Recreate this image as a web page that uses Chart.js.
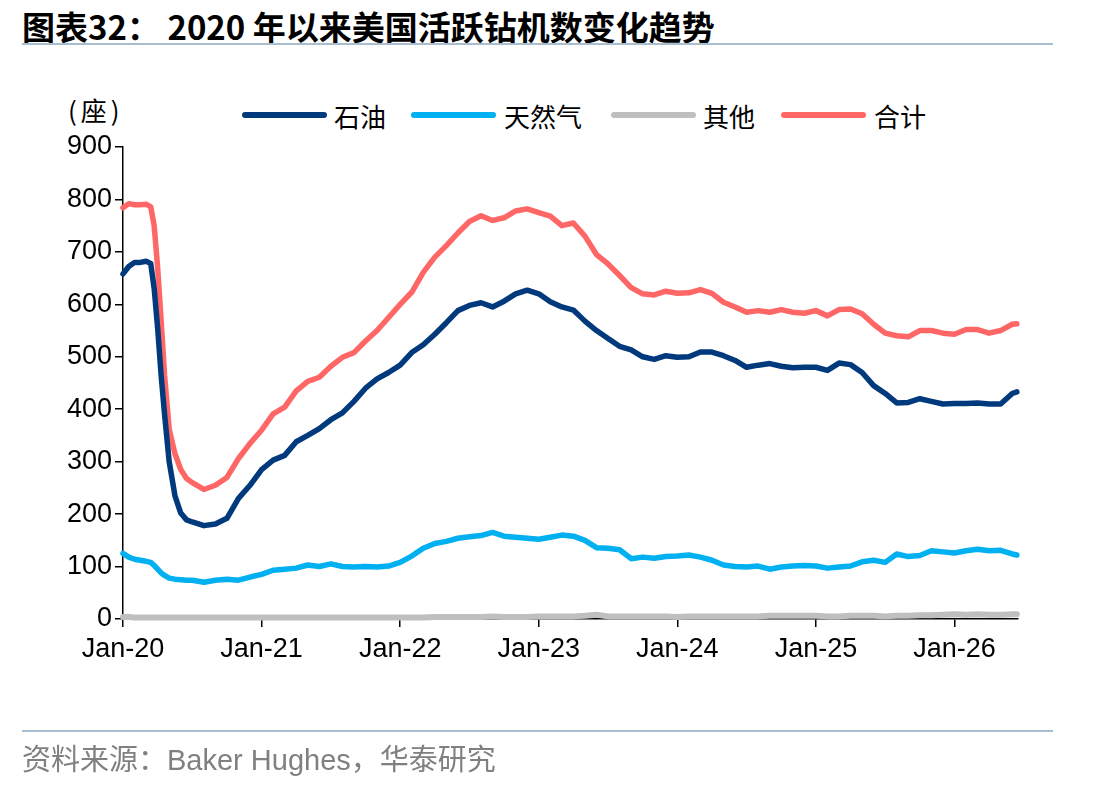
<!DOCTYPE html>
<html>
<head>
<meta charset="utf-8">
<script src="https://cdn.jsdelivr.net/npm/chart.js@4/dist/chart.umd.min.js"></script>
<style>
  body{margin:0;background:#fff;width:1112px;height:786px;position:relative;overflow:hidden}
  .title{position:absolute;left:22px;top:2px;font:bold 33px "Noto Sans CJK SC","Liberation Sans",sans-serif;color:#000;white-space:nowrap}
  .rule{position:absolute;left:22px;width:1031px;height:2px;background:#a9bdd1}
  .foot{position:absolute;left:22px;top:736px;font:29px "Liberation Sans","Noto Sans CJK SC",sans-serif;color:#808080;white-space:nowrap}
  .unit{position:absolute;left:68px;top:91px;font:26px "Noto Sans CJK SC",sans-serif;color:#000;letter-spacing:4px}
  .lg-line{position:absolute;top:112px;width:85px;height:6px;border-radius:3px}
  .lg-text{position:absolute;top:97px;font:26px "Noto Sans CJK SC",sans-serif;color:#000;white-space:nowrap}
  #chart{position:absolute;left:0;top:0}
</style>
</head>
<body>
<div class="title">图表32： 2020 年以来美国活跃钻机数变化趋势</div>
<div class="rule" style="top:43px"></div>
<div class="unit">(座)</div>
<div id="legend"></div>
<canvas id="chart" width="1112" height="786"></canvas>
<div class="rule" style="top:730px"></div>
<div class="foot">资料来源：Baker Hughes，华泰研究</div>
<script>
// months since Jan-2020 (denser through the spring 2020 collapse)
const months = [0,0.5,1,1.5,2,2.4,2.7,3,3.3,3.6,4,4.5,5,5.5,
  6,7,8,9,10,11,12,13,14,15,16,17,18,19,20,21,22,23,24,25,26,27,28,29,
  30,31,32,33,34,35,36,37,38,39,40,41,42,43,44,45,46,47,48,49,50,51,52,53,
  54,55,56,57,58,59,60,61,62,63,64,65,66,67,68,69,70,71,72,73,74,75,76,77,77.4]

const tickYears = ['Jan-20','Jan-21','Jan-22','Jan-23','Jan-24','Jan-25','Jan-26']

const seriesNames = ['石油','天然气','其他','合计']
const seriesColors = ['#003A7D','#00B0F0','#BFBFBF','#FF6666']

const oil = [658,672,680,680,682,678,630,555,465,390,300,235,202,189,
  185,178,181,192,230,255,285,303,312,338,350,363,380,393,415,440,458,470,484,508,523,543,565,588,
  598,603,595,606,620,627,620,605,595,589,568,550,535,520,513,500,495,502,499,500,509,509,502,493,
  480,484,487,482,479,480,480,474,488,485,470,445,430,412,413,420,415,410,411,411,412,410,410,430,433]

const gas = [125,118,114,112,110,108,102,95,88,83,78,76,75,74,
  74,70,74,76,74,80,85,93,95,97,103,100,105,100,99,100,99,101,108,120,135,144,148,154,
  157,159,165,158,156,154,152,156,160,158,150,136,135,132,115,118,116,119,120,122,118,112,103,100,
  99,101,95,99,101,102,101,97,99,101,109,112,108,124,119,121,130,128,126,130,133,130,131,124,122]

const other = [4,4,3,3,3,3,3,3,3,3,3,3,3,3,
  3,3,3,3,3,3,3,3,3,3,3,3,3,3,3,3,3,3,3,3,3,4,4,4,
  4,4,5,4,4,4,5,5,5,5,6,8,5,5,5,5,5,5,4,5,5,5,5,5,
  5,5,6,6,6,6,6,5,5,6,6,6,5,6,6,7,7,8,9,8,9,8,8,9,9]

const total = [784,792,790,790,791,786,750,670,570,465,362,315,285,268,
  260,247,255,270,306,335,360,391,404,435,453,461,482,499,508,530,550,575,600,623,661,690,712,736,
  758,769,760,765,778,782,775,768,750,755,730,695,677,655,632,620,618,625,621,622,628,621,604,595,
  585,588,585,590,585,583,588,578,590,591,582,562,545,540,538,550,550,545,543,552,552,545,550,562,563]

const values = [oil, gas, other, total]

// legend (html), positions
const legendPos = [[242,334],[411,504],[611,703],[781,874]]
const legend = document.getElementById('legend')
seriesNames.forEach((n,i)=>{
  const l = document.createElement('div'); l.className = 'lg-line'
  l.style.left = legendPos[i][0]+'px'; l.style.background = seriesColors[i]
  const t = document.createElement('div'); t.className = 'lg-text'
  t.style.left = legendPos[i][1]+'px'; t.textContent = n
  legend.appendChild(l); legend.appendChild(t)
})

const tickFont = {family:'"Liberation Sans", Arial, sans-serif', size:27}

new Chart(document.getElementById('chart').getContext('2d'), {
  type:'line',
  data:{
    datasets: values.map((v,i)=>({
      label: seriesNames[i],
      data: months.map((m,j)=>({x:m, y:v[j]})),
      borderColor: seriesColors[i],
      borderWidth: i===2 ? 6 : 5.5,
      pointRadius: 0,
      tension: 0,
      borderJoinStyle:'round',
      borderCapStyle:'round',
      clip: false
    }))
  },
  options:{
    responsive:false,
    animation:false,
    devicePixelRatio:1,
    layout:{padding:{left:0,right:94,top:147,bottom:117}},
    plugins:{legend:{display:false}, tooltip:{enabled:false}},
    scales:{
      x:{
        type:'linear', min:0, max:77.5,
        ticks:{stepSize:12, includeBounds:false, autoSkip:false, maxRotation:0, color:'#000', font:tickFont, padding:6,
          callback:v=>tickYears[v/12]},
        grid:{drawOnChartArea:false, drawTicks:true, tickLength:8, color:'#000', lineWidth:1.5},
        border:{color:'#000', width:1.5},
        afterFit:s=>{s.height = 50}
      },
      y:{
        min:0, max:900,
        ticks:{stepSize:100, color:'#000', font:tickFont, padding:3},
        grid:{drawOnChartArea:false, drawTicks:true, tickLength:8, color:'#000', lineWidth:1.5},
        border:{color:'#000', width:1.5},
        afterFit:s=>{s.width = 123}
      }
    }
  }
})
</script>
</body>
</html>
